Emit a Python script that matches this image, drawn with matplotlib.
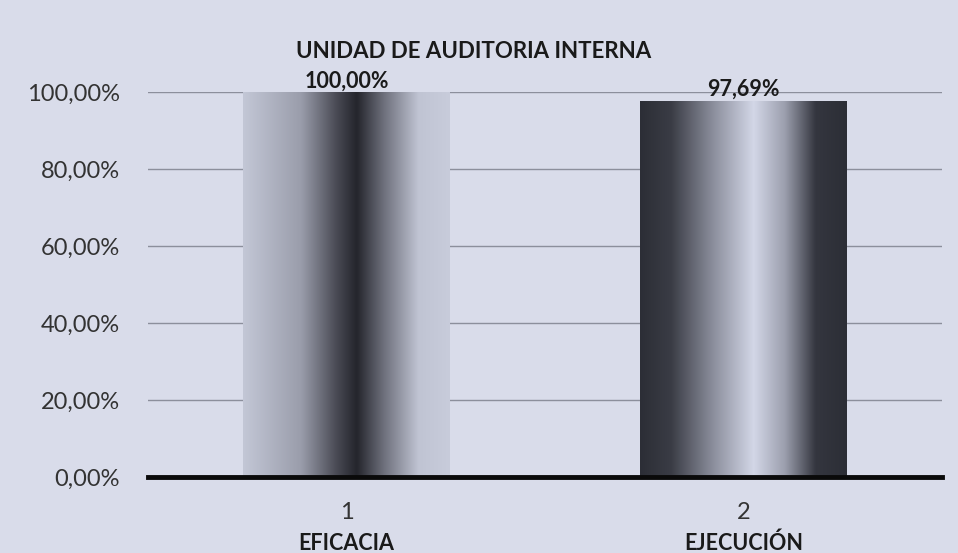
import matplotlib.pyplot as plt
import numpy as np
from matplotlib.colors import LinearSegmentedColormap

# data
positions = [1, 2]
values = [100.00, 97.69]
value_labels = ["100,00%", "97,69%"]
categories = ["EFICACIA", "EJECUCIÓN"]
yticks = [0, 20, 40, 60, 80, 100]
ytick_labels = ["0,00%", "20,00%", "40,00%", "60,00%", "80,00%", "100,00%"]

plt.rcParams['font.family'] = ['Lato', 'DejaVu Sans']

bg = '#d9dcea'
fig = plt.figure(figsize=(9.58, 5.53), dpi=100, facecolor=bg)
ax = fig.add_axes([148/958, 1 - 477/553, (942-148)/958, 385/553])
ax.set_facecolor(bg)

# gradients for the bars (light-dark-light and dark-light-dark)
cmap1 = LinearSegmentedColormap.from_list('b1', [
    (0.0, '#c3c7d6'), (0.28, '#9a9dab'), (0.45, '#4a4b55'),
    (0.55, '#24252c'), (0.68, '#6d6f7b'), (0.85, '#c0c4d3'), (1.0, '#c8ccdb')])
cmap2 = LinearSegmentedColormap.from_list('b2', [
    (0.0, '#2c2e36'), (0.15, '#3a3c45'), (0.35, '#8a8d9b'),
    (0.55, '#d3d7e7'), (0.7, '#9c9fae'), (0.85, '#34363f'), (1.0, '#2c2e36')])

bars = ax.bar(positions, values, width=0.52, color='none', zorder=2)
grad = np.linspace(0, 1, 256).reshape(1, -1)
for b, cm in zip(bars, [cmap1, cmap2]):
    x0, y0 = b.get_x(), b.get_y()
    w, h = b.get_width(), b.get_height()
    im = ax.imshow(grad, cmap=cm, aspect='auto', extent=(x0, x0 + w, y0, y0 + h),
                   zorder=2, interpolation='bicubic')
    im.set_clip_path(b)

ax.set_xlim(0.5, 2.5)
ax.set_ylim(0, 100)

for p, v, lab in zip(positions, values, value_labels):
    ax.text(p, v + 0.2, lab, ha='center', va='bottom', fontsize=15.5,
            fontweight='bold', color='#1a1a1a', zorder=4)

ax.set_yticks(yticks)
ax.set_yticklabels(ytick_labels, fontsize=17, color='#333333')
ax.set_xticks(positions)
ax.set_xticklabels(['1', '2'], fontsize=17, color='#333333')
ax.tick_params(axis='x', length=0, pad=18)
ax.tick_params(axis='y', length=0, pad=20)

for y in yticks[1:]:
    ax.axhline(y, color='#8c8f9c', linewidth=1, zorder=1)
ax.axhline(0, color='#0a0a0a', linewidth=3.5, zorder=3, clip_on=False)

for s in ax.spines.values():
    s.set_visible(False)

for p, c in zip(positions, categories):
    ax.text(p, -17.3, c, ha='center', va='center', fontsize=15.5,
            fontweight='bold', color='#1a1a1a')

fig.text(474/958, 1 - 51/553, "UNIDAD DE AUDITORIA INTERNA", ha='center',
         va='center', fontsize=16, fontweight='bold', color='#1a1a1a')

fig.savefig('out.png', dpi=100, facecolor=bg)
